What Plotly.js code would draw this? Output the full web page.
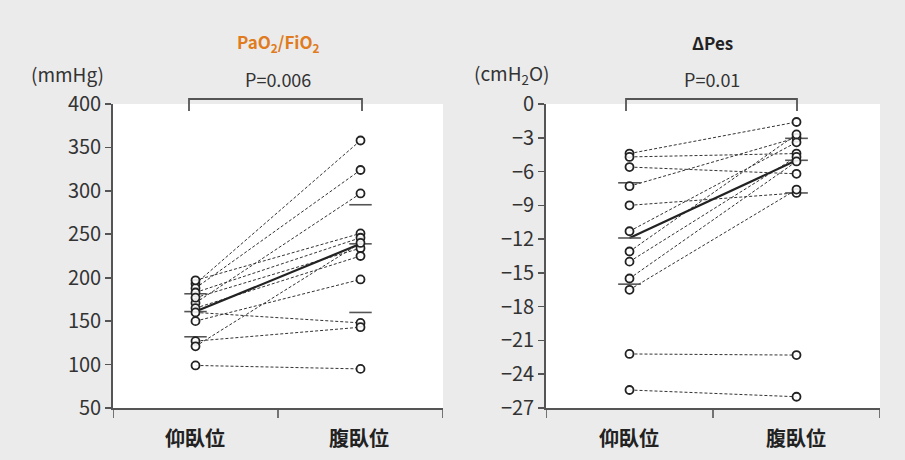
<!DOCTYPE html>
<html>
<head>
<meta charset="utf-8">
<script src="https://cdn.plot.ly/plotly-3.0.1.min.js"></script>
<style>html,body{margin:0;padding:0;background:#fff;}#chart{width:905px;height:460px;}</style>
</head>
<body>
<div id="chart"></div>
<script>
// ---- data ----
const categories = ['仰臥位', '腹臥位'];

// PaO2/FiO2 (mmHg), paired per patient
const pfSupine = [193, 188, 171, 197, 183, 177, 165, 160, 150, 127, 121, 99];
const pfProne  = [358, 324, 297, 251, 246, 234, 225, 148, 198, 143, 240, 95];
const pfMedian = [161, 239];
const pfQ1     = [132, 160];
const pfQ3     = [181.5, 284];

// ΔPes (cmH2O), paired per patient
const pesSupine = [-4.4, -4.7, -5.6, -7.3, -9.0, -11.3, -13.1, -14.0, -15.5, -16.5, -22.2, -25.4];
const pesProne  = [-1.6, -4.4, -6.2, -3.0, -7.9, -3.4, -2.7, -4.7, -5.1, -7.6, -22.3, -26.0];
const pesMedian = [-11.9, -5.0];
const pesQ1     = [-16.0, -7.9];
const pesQ3     = [-7.0, -3.05];

const pfTicks  = [50, 100, 150, 200, 250, 300, 350, 400];
const pesTicks = [0, -3, -6, -9, -12, -15, -18, -21, -24, -27];

// ---- helpers ----
const W = 905, H = 460;
const px = x => x / W;
const py = y => 1 - y / H;
const FONT = 'Noto Sans CJK JP, Noto Sans, sans-serif';

function pairTrace(sup, pro, xa, ya) {
  const x = [], y = [];
  for (let i = 0; i < sup.length; i++) { x.push(0, 1, null); y.push(sup[i], pro[i], null); }
  return {x, y, xaxis: xa, yaxis: ya, mode: 'lines', type: 'scatter', hoverinfo: 'skip',
          line: {color: '#333', width: 1, dash: '3px,2px'}, showlegend: false};
}
function markerTrace(sup, pro, xa, ya) {
  const x = [], y = [];
  for (let i = 0; i < sup.length; i++) { x.push(0); y.push(sup[i]); }
  for (let i = 0; i < pro.length; i++) { x.push(1); y.push(pro[i]); }
  return {x, y, xaxis: xa, yaxis: ya, mode: 'markers', type: 'scatter',
          marker: {symbol: 'circle', size: 8, color: 'rgba(255,255,255,0.9)', line: {color: '#222', width: 1.8}},
          showlegend: false};
}
function medianTrace(med, xa, ya) {
  return {x: [0, 1], y: med, xaxis: xa, yaxis: ya, mode: 'lines', type: 'scatter',
          line: {color: '#222', width: 2.2}, showlegend: false};
}
function barTrace(med, q1, q3, xa, ya) {
  const x = [], y = [], hw = 0.068;
  [med, q1, q3].forEach(arr => {
    for (let i = 0; i < arr.length; i++) { x.push(i - hw, i + hw, null); y.push(arr[i], arr[i], null); }
  });
  return {x, y, xaxis: xa, yaxis: ya, mode: 'lines', type: 'scatter',
          line: {color: '#555', width: 1.6}, showlegend: false};
}

const data = [
  pairTrace(pfSupine, pfProne, 'x', 'y'),
  medianTrace(pfMedian, 'x', 'y'),
  barTrace(pfMedian, pfQ1, pfQ3, 'x', 'y'),
  markerTrace(pfSupine, pfProne, 'x', 'y'),
  pairTrace(pesSupine, pesProne, 'x2', 'y2'),
  medianTrace(pesMedian, 'x2', 'y2'),
  barTrace(pesMedian, pesQ1, pesQ3, 'x2', 'y2'),
  markerTrace(pesSupine, pesProne, 'x2', 'y2')
];

const yDom = [py(408), py(104)];
const xBase = {
  range: [-0.5, 1.5], showticklabels: false, ticks: '',
  showline: true, linecolor: '#555', linewidth: 1.8, showgrid: false, zeroline: false,
  fixedrange: true
};
const yBase = {
  ticks: 'outside', ticklen: 6, tickwidth: 1.6, tickcolor: '#555',
  showline: true, linecolor: '#555', linewidth: 1.8, showgrid: false, zeroline: false,
  tickfont: {family: FONT, size: 20, color: '#333'}, domain: yDom, fixedrange: true
};

const ann = [];
function text(t, x, y, size, color, bold) {
  ann.push({text: bold ? '<b>' + t + '</b>' : t, x: px(x), y: py(y), xref: 'paper', yref: 'paper',
            xanchor: 'center', yanchor: 'middle', showarrow: false,
            font: {family: FONT, size: size, color: color}});
}
text('PaO<sub>2</sub>/FiO<sub>2</sub>', 278, 42, 17, '#e07b20', true);
text('P=0.006', 278, 79, 18, '#333', false);
text('(mmHg)', 67, 74, 19, '#333', false);
text('ΔPes', 712, 42, 17, '#222', true);
text('P=0.01', 712, 79, 18, '#333', false);
text('(cmH<sub>2</sub>O)', 511, 74, 19, '#333', false);
text(categories[0], 195, 437, 20, '#222', true);
text(categories[1], 359, 437, 20, '#222', true);
text(categories[0], 629, 437, 20, '#222', true);
text(categories[1], 796, 437, 20, '#222', true);

const shapes = [];
function bracket(x0, x1) {
  shapes.push({type: 'path', xref: 'paper', yref: 'paper',
          path: `M ${px(x0)},${py(111)} L ${px(x0)},${py(99)} L ${px(x1)},${py(99)} L ${px(x1)},${py(111)}`,
          line: {color: '#555', width: 1.8}});
}
bracket(189, 362);
bracket(626, 797);
// x-axis boundary ticks and the small axis overhangs
function axisMarks(xa, axLeftPx) {
  [-0.5, 0.5, 1.5].forEach(v => {
    shapes.push({type: 'line', xref: xa, yref: 'paper', x0: v, x1: v, y0: py(408), y1: py(418),
                 line: {color: '#555', width: 1.6}});
  });
  shapes.push({type: 'line', xref: 'paper', yref: 'paper', x0: px(axLeftPx - 7), x1: px(axLeftPx),
               y0: py(408), y1: py(408), line: {color: '#555', width: 1.6}});
}
axisMarks('x', 113);
axisMarks('x2', 546);

const layout = {
  width: W, height: H,
  margin: {l: 0, r: 0, t: 0, b: 0, pad: 0},
  paper_bgcolor: '#ebebeb', plot_bgcolor: '#ffffff',
  showlegend: false,
  xaxis: Object.assign({}, xBase, {domain: [px(113), px(443)], anchor: 'y'}),
  yaxis: Object.assign({}, yBase, {range: [50, 400], tickvals: pfTicks, anchor: 'x'}),
  xaxis2: Object.assign({}, xBase, {domain: [px(546), px(880)], anchor: 'y2'}),
  yaxis2: Object.assign({}, yBase, {range: [-27, 0], tickvals: pesTicks, anchor: 'x2'}),
  annotations: ann,
  shapes: shapes
};

Plotly.newPlot('chart', data, layout, {displayModeBar: false, staticPlot: true});
</script>
</body>
</html>
